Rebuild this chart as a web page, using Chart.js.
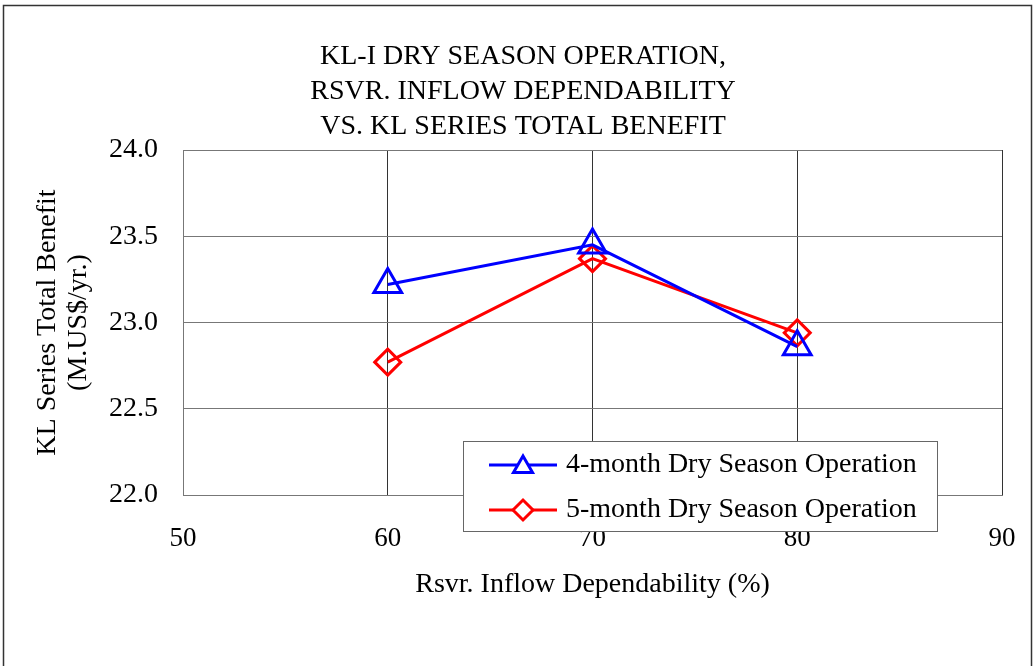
<!DOCTYPE html>
<html>
<head>
<meta charset="utf-8">
<script src="https://cdn.jsdelivr.net/npm/chart.js@4.4.1/dist/chart.umd.min.js"></script>
<style>
html,body{margin:0;padding:0;background:#fff;}
#wrap{position:relative;width:1035px;height:666px;}
</style>
</head>
<body>
<div id="wrap"><canvas id="c" width="1035" height="666"></canvas></div>
<script>
const titleLines = ["KL-I DRY SEASON OPERATION,", "RSVR. INFLOW DEPENDABILITY", "VS. KL SERIES TOTAL BENEFIT"];
const xTitle = "Rsvr. Inflow Dependability (%)";
const yTitleLines = ["KL Series Total Benefit", "(M.US$/yr.)"];
const dependability = [60, 70, 80];
const series4Label = "4-month Dry Season Operation";
const series4Values = [23.22, 23.45, 22.86];
const series5Label = "5-month Dry Season Operation";
const series5Values = [22.77, 23.37, 22.94];
const xTicks = [50, 60, 70, 80, 90];
const yTicks = [22.0, 22.5, 23.0, 23.5, 24.0];

const FONT = "'Liberation Serif', 'Times New Roman', serif";

const decor = {
  id: 'decor',
  beforeDraw(chart) {
    const ctx = chart.ctx;
    ctx.save();
    ctx.fillStyle = '#fff';
    ctx.fillRect(0, 0, chart.width, chart.height);
    ctx.strokeStyle = '#333';
    ctx.lineWidth = 1.5;
    ctx.strokeRect(3.5, 5.5, 1028, 720);
    ctx.restore();
  },
  afterDraw(chart) {
    const ctx = chart.ctx;
    const ca = chart.chartArea;
    ctx.save();
    ctx.fillStyle = '#000';
    ctx.textAlign = 'center';
    ctx.textBaseline = 'middle';
    ctx.font = '28px ' + FONT;
    titleLines.forEach((t, i) => ctx.fillText(t, 523, 57 + i * 35));
    ctx.fillText(xTitle, (ca.left + ca.right) / 2, 585);
    const cy = (ca.top + ca.bottom) / 2;
    yTitleLines.forEach((t, i) => {
      ctx.save();
      ctx.translate(48 + i * 31, cy);
      ctx.rotate(-Math.PI / 2);
      ctx.fillText(t, 0, 0);
      ctx.restore();
    });
    // legend
    const lx = 463.5, ly = 441.5, lw = 474, lh = 90;
    ctx.fillStyle = '#fff';
    ctx.fillRect(lx, ly, lw, lh);
    ctx.strokeStyle = '#666';
    ctx.lineWidth = 1;
    ctx.strokeRect(lx, ly, lw, lh);
    chart.data.datasets.forEach((ds, i) => {
      const y = 465 + i * 45;
      ctx.strokeStyle = ds.borderColor;
      ctx.lineWidth = 3;
      ctx.beginPath();
      ctx.moveTo(489, y);
      ctx.lineTo(557, y);
      ctx.stroke();
      ctx.fillStyle = '#fff';
      Chart.helpers.drawPoint(ctx, {
        pointStyle: ds.pointStyle,
        rotation: 0,
        radius: ds.pointStyle === 'triangle' ? 11 : 10,
        borderWidth: 3
      }, 523, y + (ds.pointStyle === 'triangle' ? 2 : 0));
      ctx.fillStyle = '#000';
      ctx.textAlign = 'left';
      ctx.font = '28px ' + FONT;
      ctx.fillText(ds.label, 566, y);
    });
    ctx.restore();
  }
};

new Chart(document.getElementById('c'), {
  type: 'line',
  data: {
    datasets: [
      {
        label: series4Label,
        data: dependability.map((x, i) => ({x, y: series4Values[i]})),
        borderColor: '#0000ff',
        backgroundColor: 'rgba(0,0,0,0)',
        borderWidth: 3,
        pointStyle: 'triangle',
        pointRadius: 16,
        pointBorderWidth: 3,
        pointBorderColor: '#0000ff',
        pointBackgroundColor: 'rgba(0,0,0,0)',
        tension: 0
      },
      {
        label: series5Label,
        data: dependability.map((x, i) => ({x, y: series5Values[i]})),
        borderColor: '#ff0000',
        backgroundColor: 'rgba(0,0,0,0)',
        borderWidth: 3,
        pointStyle: 'rectRot',
        pointRadius: 13,
        pointBorderWidth: 3,
        pointBorderColor: '#ff0000',
        pointBackgroundColor: 'rgba(0,0,0,0)',
        tension: 0
      }
    ]
  },
  options: {
    responsive: false,
    animation: false,
    events: [],
    layout: { padding: { left: 0, right: 33, top: 150, bottom: 0 } },
    plugins: { legend: { display: false }, title: { display: false }, tooltip: { enabled: false } },
    scales: {
      x: {
        type: 'linear',
        min: xTicks[0], max: xTicks[xTicks.length - 1],
        afterBuildTicks(scale) { scale.ticks = xTicks.map(v => ({value: v})); },
        afterFit(scale) { scale.height = 171; scale.paddingRight = 0; scale.paddingLeft = 0; },
        grid: { color: '#333', lineWidth: 1, drawTicks: false },
        border: { color: '#777', width: 1 },
        ticks: { padding: 28, color: '#000', font: { family: FONT, size: 27 }, callback: v => String(v) }
      },
      y: {
        type: 'linear',
        min: yTicks[0], max: yTicks[yTicks.length - 1],
        afterBuildTicks(scale) { scale.ticks = yTicks.map(v => ({value: v})); },
        afterFit(scale) { scale.width = 183; scale.paddingTop = 0; scale.paddingBottom = 0; },
        grid: { color: '#777', lineWidth: 1, drawTicks: false },
        border: { color: '#777', width: 1 },
        ticks: { padding: 25, color: '#000', font: { family: FONT, size: 28 }, callback: v => Number(v).toFixed(1) }
      }
    }
  },
  plugins: [decor]
});
</script>
</body>
</html>
